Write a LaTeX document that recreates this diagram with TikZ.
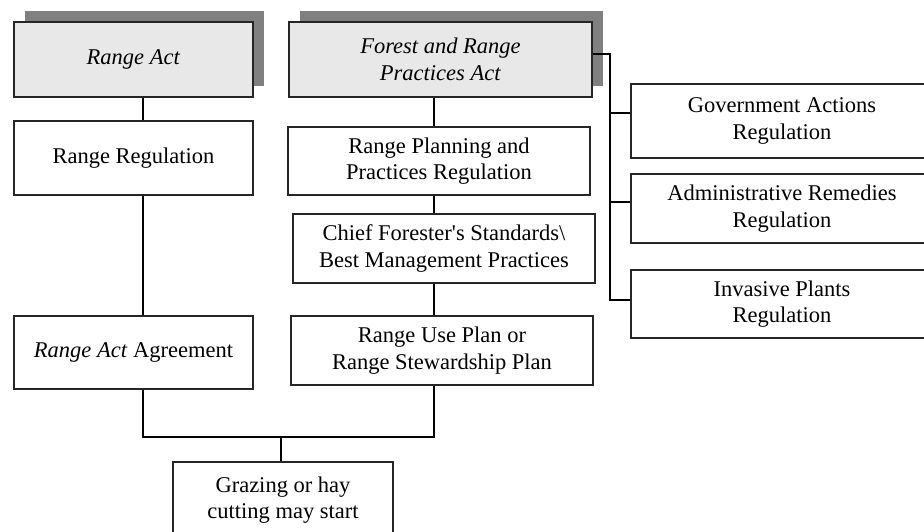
\documentclass[tikz,border=0pt]{standalone}
\usepackage{fontspec}
\setmainfont{Liberation Serif}
\usetikzlibrary{shadows}

\begin{document}
\begin{tikzpicture}[x=1pt,y=-1pt,line width=1.2pt,
  box/.style={draw=black!85,fill=white,inner sep=0pt,align=center,font=\fontsize{22.5}{26.5}\selectfont},
  actbox/.style={box,fill=black!9,general shadow={fill=black!50,shadow xshift=11pt,shadow yshift=11pt}}]
\clip (0,0) rectangle (924,531);

% the two acts
\node[actbox,minimum width=239pt,minimum height=75pt] (act) at (133.5,59.5) {\textit{Range Act}};
\node[actbox,minimum width=303pt,minimum height=75pt] (frpa) at (440.5,59.5) {\textit{Forest and Range}\\\textit{Practices Act}};

% left column
\node[box,minimum width=239pt,minimum height=74pt] (rreg) at (133.5,158) {Range Regulation};
\node[box,minimum width=239pt,minimum height=73pt] (agr) at (133.5,352.5) {\textit{Range Act} Agreement};

% middle column
\node[box,minimum width=302pt,minimum height=68pt] (rppr) at (439,161) {Range Planning and\\Practices Regulation};
\node[box,minimum width=302pt,minimum height=69pt] (cfs) at (444,248.5) {Chief Forester\textquotesingle s Standards\textbackslash\\Best Management Practices};
\node[box,minimum width=302pt,minimum height=69pt] (rup) at (442,350.5) {Range Use Plan or\\Range Stewardship Plan};

% other regulations
\node[box,minimum width=302pt,minimum height=74pt] (gar) at (782,121) {Government Actions\\Regulation};
\node[box,minimum width=302pt,minimum height=69pt] (arr) at (782,208.5) {Administrative Remedies\\Regulation};
\node[box,minimum width=302pt,minimum height=68pt] (ipr) at (782,304) {Invasive Plants\\Regulation};

\node[box,minimum width=220pt,minimum height=76pt] (graz) at (283,500) {Grazing or hay\\cutting may start};

\coordinate (lcol) at (143,0);
\coordinate (rcol) at (434,0);
\coordinate (spine) at (610,0);
\coordinate (join) at (281,437);

\draw (act.south -| lcol) -- (rreg.north -| lcol);
\draw (rreg.south -| lcol) -- (agr.north -| lcol);
\draw (frpa.south -| rcol) -- (rppr.north -| rcol);
\draw (rppr.south -| rcol) -- (cfs.north -| rcol);
\draw (cfs.south -| rcol) -- (rup.north -| rcol);
\draw (agr.south -| lcol) |- (join) -| (rup.south -| rcol);
\draw (join) -- (graz.north -| join);

\draw ([yshift=5.5pt]frpa.east) -| ([yshift=4pt]ipr.west -| spine) -- ([yshift=4pt]ipr.west);
\draw ([yshift=8pt]gar.west) -- ([yshift=8pt]gar.west -| spine);
\draw ([yshift=6.5pt]arr.west) -- ([yshift=6.5pt]arr.west -| spine);
\end{tikzpicture}
\end{document}
